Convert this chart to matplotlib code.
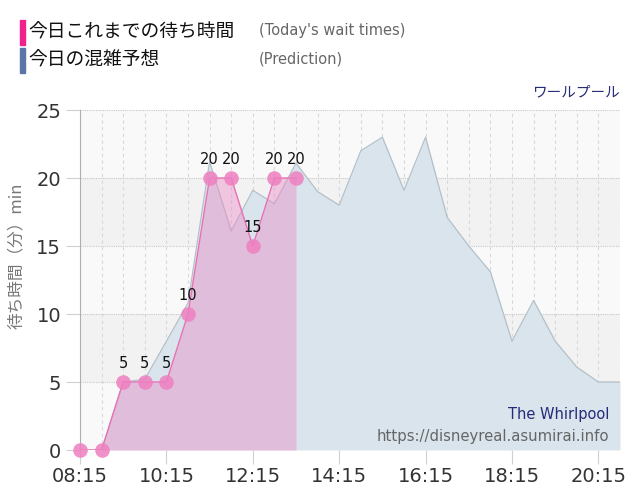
import matplotlib
matplotlib.use("Agg")
import matplotlib.pyplot as plt
import numpy as np

JP = ["Noto Sans CJK JP", "DejaVu Sans"]

# today's measured wait times (minutes)
wait_times = ["08:15", "08:45", "09:15", "09:45", "10:15", "10:45",
              "11:15", "11:45", "12:15", "12:45", "13:15"]
wait_values = [0, 0, 5, 5, 5, 10, 20, 20, 15, 20, 20]

# predicted congestion curve
pred_times = ["08:15", "08:45", "09:15", "09:45", "10:15", "10:45", "11:15",
              "11:45", "12:15", "12:45", "13:15", "13:45", "14:15", "14:45",
              "15:15", "15:45", "16:15", "16:45", "17:15", "17:45", "18:15",
              "18:45", "19:15", "19:45", "20:15", "20:45"]
pred_values = [0, 0, 5, 5.2, 8, 10.8, 21.2, 16.1, 19.1, 18.1, 21.1, 19.0,
               18.0, 22.0, 23.0, 19.1, 23.0, 17.1, 15.0, 13.1, 8.0, 11.0,
               8.0, 6.1, 5.0, 5.0]

tick_labels = ["08:15", "10:15", "12:15", "14:15", "16:15", "18:15", "20:15"]
y_ticks = [0, 5, 10, 15, 20, 25]


def to_min(t):
    h, m = t.split(":")
    return int(h) * 60 + int(m)


wx = np.array([to_min(t) for t in wait_times])
px = np.array([to_min(t) for t in pred_times])
tx = [to_min(t) for t in tick_labels]

fig = plt.figure(figsize=(6.4, 5.0), dpi=100)
ax = fig.add_axes([0.125, 0.1, 0.84375, 0.68])

x0, x1 = to_min("08:15"), to_min("20:45")
ax.set_xlim(x0, x1)
ax.set_ylim(0, 25)

# banded background
for i, lo in enumerate(range(0, 25, 5)):
    ax.axhspan(lo, lo + 5, color="#f9f9f9" if i % 2 == 0 else "#f2f2f2",
               zorder=0, lw=0)

# grid
for m in range(x0, x1 + 1, 30):
    ax.axvline(m, color="#d6d9dc", lw=0.8, ls=(0, (3, 3)), zorder=1)
for v in y_ticks[1:]:
    ax.axhline(v, color="#c8c8c8", lw=0.8, ls=(0, (1, 1)), zorder=1)

# prediction
ax.fill_between(px, pred_values, 0, color="#d9e4ec", lw=0, zorder=2)
ax.plot(px, pred_values, color="#b4c0c8", lw=0.9, zorder=3)

# wait times
ax.fill_between(wx, wait_values, 0, color="#ee88c6", alpha=0.42, lw=0, zorder=4)
ax.plot(wx, wait_values, color="#e870b4", lw=1.0, zorder=5)
ax.plot(wx, wait_values, "o", ms=10.5, color="#ee7fc0", alpha=0.85,
        mec="none", zorder=6, clip_on=False)
for x, v in zip(wx[2:], wait_values[2:]):
    ax.annotate(str(v), (x, v), xytext=(0, 8), textcoords="offset points",
                ha="center", va="bottom", fontsize=10.5, color="#111", zorder=7)

# axes styling
for s in ["top", "right", "bottom"]:
    ax.spines[s].set_visible(False)
ax.spines["left"].set_color("#aab0b8")
ax.spines["left"].set_linewidth(0.8)
ax.set_xticks(tx)
ax.set_xticklabels(tick_labels)
ax.set_yticks(y_ticks)
ax.tick_params(axis="both", labelsize=14, labelcolor="#333333",
               color="#d0d0d0", length=10, width=0.8)
ax.tick_params(axis="x", pad=2)
ax.set_ylabel("待ち時間（分）min", family=JP, fontsize=12, color="#777777")
ax.yaxis.set_label_coords(-0.102, 0.57)

# legend header
fig.patches.append(plt.Rectangle((20 / 640, 1 - 45 / 500), 5 / 640, 25 / 500,
                                 transform=fig.transFigure, color="#f0208c"))
fig.patches.append(plt.Rectangle((20 / 640, 1 - 73 / 500), 5 / 640, 25 / 500,
                                 transform=fig.transFigure, color="#5b76a6"))
fig.text(28 / 640, 1 - 32 / 500, "今日これまでの待ち時間", family=JP,
         fontsize=13.5, va="center", color="#111")
fig.text(28 / 640, 1 - 60 / 500, "今日の混雑予想", family=JP,
         fontsize=13.5, va="center", color="#111")
fig.text(259 / 640, 1 - 31 / 500, "(Today's wait times)", fontsize=10.5,
         va="center", color="#666666")
fig.text(259 / 640, 1 - 59 / 500, "(Prediction)", fontsize=10.5,
         va="center", color="#666666")
fig.text(620 / 640, 1 - 92 / 500, "ワールプール", family=JP, fontsize=10.5,
         ha="right", va="center", color="#262a78")

# watermark inside plot
ax.text(0.98, 0.103, "The Whirlpool", transform=ax.transAxes, ha="right",
        va="center", fontsize=10.5, color="#262a78", zorder=8)
ax.text(0.98, 0.041, "https://disneyreal.asumirai.info", transform=ax.transAxes,
        ha="right", va="center", fontsize=10.7, color="#666666", zorder=8)

fig.savefig("out.png", dpi=100)
